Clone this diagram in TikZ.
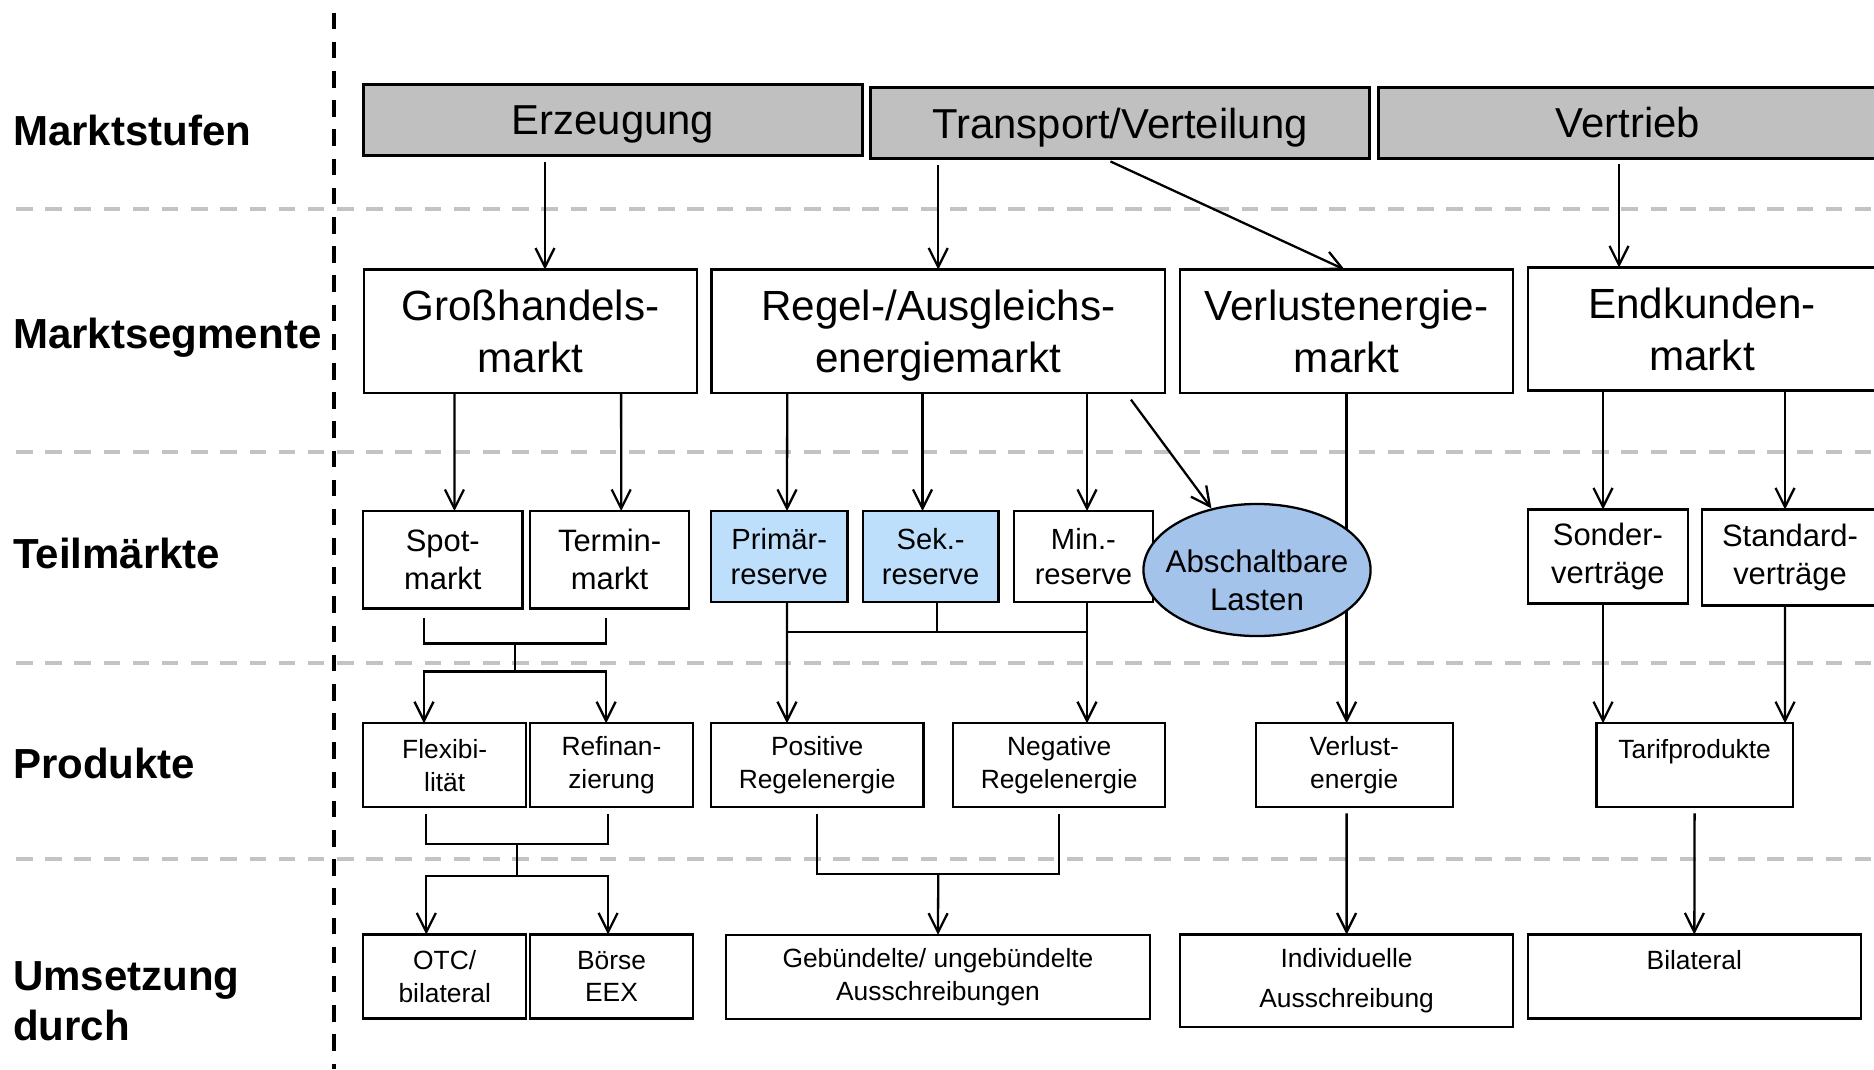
\documentclass[tikz,border=0pt]{standalone}
\usepackage{fontspec}
\setmainfont{Liberation Sans}
\usetikzlibrary{calc,arrows.meta,positioning,shapes.geometric}
\definecolor{stufengrau}{HTML}{C0C0C0}
\definecolor{reservehell}{HTML}{BDDFFC}
\definecolor{lastenblau}{HTML}{A3C3EA}
\definecolor{trenngrau}{HTML}{C3C3C3}

\begin{document}
\begin{tikzpicture}[x=0.01cm,y=-0.01cm,line width=0.65pt,
  arr/.style={-{Straight Barb[length=1.9mm,width=1.9mm]}},
  gap/.style={shorten <=0.06cm},
  box/.style={draw,align=center,inner sep=0pt,outer sep=0pt},
  stufe/.style={box,fill=stufengrau,line width=0.85pt,minimum height=0.71cm,text depth=0pt,font=\fontsize{11.9}{14.2}\selectfont},
  segment/.style={box,minimum height=1.23cm,text depth=0pt,font=\fontsize{12}{14.7}\selectfont},
  teil/.style={box,font=\fontsize{8.8}{10.8}\selectfont},
  reserve/.style={box,minimum height=0.91cm,font=\fontsize{8.3}{9.7}\selectfont},
  produkt/.style={box,minimum height=0.84cm,font=\fontsize{7.5}{9.3}\selectfont},
  ebene/.style={anchor=base west,align=left,inner sep=0pt,font=\fontsize{11.95}{14.2}\selectfont\bfseries},
  trenner/.style={draw=trenngrau,line width=1.14pt,dash pattern=on 4.7pt off 3.6pt}]

  \useasboundingbox (0,0) rectangle (1874,1069);
  \clip (0,0) rectangle (1874,1069);

  % Trennlinien
  \foreach \y in {209,452,663,859}
    \draw[trenner] (16,\y) -- (1874,\y);
  \draw[line width=1.14pt,dash pattern=on 4.7pt off 3.6pt] (334,12.7) -- (334,1069);

  % Ebenen
  \node[ebene] (l1) at (12,145) {Marktstufen};
  \node[ebene] (l2) at (12,348) {Marktsegmente};
  \node[ebene] (l3) at (12,568) {Teilmärkte};
  \node[ebene] (l4) at (12,778) {Produkte};
  \node[ebene] (l5) at (12,1040.5) {Umsetzung\\durch};

  % Marktstufen
  \node[stufe,minimum width=4.98cm] (erz) at (613,120.4) {Erzeugung};
  \node[stufe,minimum width=4.99cm] (trans) at (1120,123.4) {Transport/Verteilung};
  \node[stufe,minimum width=4.99cm] (vertrieb) at (1628,122.6) {Vertrieb};

  % Marktsegmente
  \node[segment,minimum width=3.33cm] (gross) at (530.5,331.1) {Großhandels-\\markt};
  \node[segment,minimum width=4.532cm] (regel) at (938.2,331.1) {Regel-/Ausgleichs-\\energiemarkt};
  \node[segment,minimum width=3.324cm] (verlust) at (1346.6,331.1) {Verlustenergie-\\markt};
  \node[segment,minimum width=3.484cm] (endk) at (1702,329) {Endkunden-\\markt};

  % Teilmaerkte
  \node[teil,minimum width=1.59cm,minimum height=0.973cm] (spot) at (442.8,559.7) {Spot-\\markt};
  \node[teil,minimum width=1.59cm,minimum height=0.973cm,right=0.077cm of spot] (termin) {Termin-\\markt};
  \node[reserve,fill=reservehell,minimum width=1.365cm] (prim) at (779.3,556.5) {Primär-\\reserve};
  \node[reserve,fill=reservehell,minimum width=1.357cm] (sek) at (930.6,556.5) {Sek.-\\reserve};
  \node[reserve,minimum width=1.392cm] (minr) at (1083.4,556.5) {Min.-\\reserve};
  \node[teil,minimum width=1.602cm,minimum height=0.94cm] (sonder) at (1607.9,556.5) {Sonder-\\verträge};
  \node[teil,minimum width=1.76cm,minimum height=0.96cm] (standard) at (1790,557.5) {Standard-\\verträge};

  % Produkte
  \node[produkt,minimum width=1.627cm] (flex) at (444.7,765.3) {Flexibi-\\lität};
  \node[produkt,minimum width=1.627cm,right=0.04cm of flex] (refin) {Refinan-\\zierung};
  \node[produkt,minimum width=2.123cm] (pos) at (817.2,765.3) {Positive\\Regelenergie};
  \node[produkt,minimum width=2.117cm] (neg) at (1059.2,765.3) {Negative\\Regelenergie};
  \node[produkt,minimum width=1.97cm] (vle) at (1354.2,765.3) {Verlust-\\energie};
  \node[produkt,minimum width=1.962cm] (tarif) at (1694.6,765.3) {Tarifprodukte\\~};

  % Umsetzung
  \node[produkt,minimum width=1.627cm] (otc) at (444.7,976.5) {OTC/\\bilateral};
  \node[produkt,minimum width=1.627cm,right=0.04cm of otc] (boerse) {Börse\\EEX};
  \node[produkt,minimum width=4.24cm] (gebuendelt) at (938,976.8) {Gebündelte/ ungebündelte\\Ausschreibungen};
  \node[produkt,minimum width=3.324cm,minimum height=0.924cm,font=\fontsize{7.5}{11.4}\selectfont] (indiv) at (1346.6,980.8) {Individuelle\\Ausschreibung};
  \node[produkt,minimum width=3.33cm] (bilat) at (1694.3,976.5) {Bilateral\\~};

  % Verlustenergie laeuft hinter der Ellipse
  \draw[arr] (verlust.south) -- (verlust.south |- vle.north);
  \node[ellipse,draw,fill=lastenblau,minimum width=2.27cm,minimum height=1.32cm,inner sep=0pt] (abl) at (1257,570) {};
  \node[align=center,inner sep=0pt,font=\fontsize{8.9}{10.8}\selectfont] (abltext) at (1257,580) {Abschaltbare\\Lasten};

  % Marktstufen -> Marktsegmente
  \draw[arr,gap] ($(erz.south)+(-68,0)$) -- ($(gross.north)+(14.5,0)$);
  \draw[arr,gap] (regel.north |- trans.south) -- (regel.north);
  \draw[arr,gap] ($(trans.south)+(-15,0)$) -- ($(verlust.north)+(-2,0)$);
  \draw[arr,gap] ($(vertrieb.south)+(-9,0)$) -- ($(endk.north)+(-83,0)$);

  % Marktsegmente -> Teilmaerkte
  \draw[arr] ($(gross.south)+(-76,0)$) -- ($(spot.north)+(11.6,0)$);
  \draw[arr] ($(gross.south)+(90.6,0)$) -- ($(termin.north)+(11.6,0)$);
  \draw[arr] ($(regel.south)+(-151,0)$) -- ($(prim.north)+(7.7,0)$);
  \draw[arr] ($(regel.south)+(-15.7,0)$) -- ($(sek.north)+(-8.1,0)$);
  \draw[arr] ($(regel.south)+(148.8,0)$) -- ($(minr.north)+(3.6,0)$);
  \draw[arr] ($(regel.south east)+(-34,7)$) -- (abl);
  \draw[arr] ($(endk.south)+(-99,0)$) -- ($(sonder.north)+(-4.9,0)$);
  \draw[arr] ($(endk.south)+(83,0)$) -- ($(standard.north)+(-5,0)$);

  % Teilmaerkte -> Produkte
  \draw ($(spot.south)+(-18.8,9.4)$) |- ($(termin.south)+(-3.5,35)$) -- ($(termin.south)+(-3.5,9.4)$);
  \draw ($(spot.south)!.5!(termin.south)+(-11,35)$) -- ++(0,28) coordinate (st);
  \draw[arr] (st) -| ($(flex.north)+(-20.7,0)$);
  \draw[arr] (st) -| ($(refin.north)+(-5.4,0)$);
  \draw[arr] ($(prim.south)+(7.7,0)$) -- ($(pos.north)+(-30.2,0)$);
  \draw[arr] ($(minr.south)+(3.6,0)$) -- ($(neg.north)+(27.8,0)$);
  \draw ($(sek.south)+(6.4,0)$) -- ($(sek.south)+(6.4,30)$);
  \draw ($(prim.south)+(7.7,30)$) -- ($(minr.south)+(3.6,30)$);
  \draw[arr] ($(sonder.south)+(-4.9,0)$) -- ($(tarif.north)+(-91.6,0)$);
  \draw[arr] ($(standard.south)+(-5,0)$) -- ($(tarif.north)+(90.4,0)$);

  % Produkte -> Umsetzung
  \draw ($(flex.south)+(-18.4,7)$) |- ($(refin.south)+(-3.4,37)$) -- ($(refin.south)+(-3.4,7)$);
  \draw ($(flex.south)!.5!(refin.south)+(-11,37)$) -- ++(0,31.4) coordinate (fr);
  \draw[arr] (fr) -| ($(otc.north)+(-18.4,0)$);
  \draw[arr] (fr) -| ($(boerse.north)+(-3.4,0)$);
  \draw ($(pos.south)+(0,7)$) |- coordinate[pos=.75] (pn) ($(neg.south)+(0,66.7)$) -- ($(neg.south)+(0,7)$);
  \draw[arr] (pn) -- (gebuendelt.north);
  \draw[arr,gap] ($(vle.south)+(-7.6,0)$) -- (indiv.north);
  \draw[arr,gap] (tarif.south) -- (bilat.north);

\end{tikzpicture}
\end{document}
